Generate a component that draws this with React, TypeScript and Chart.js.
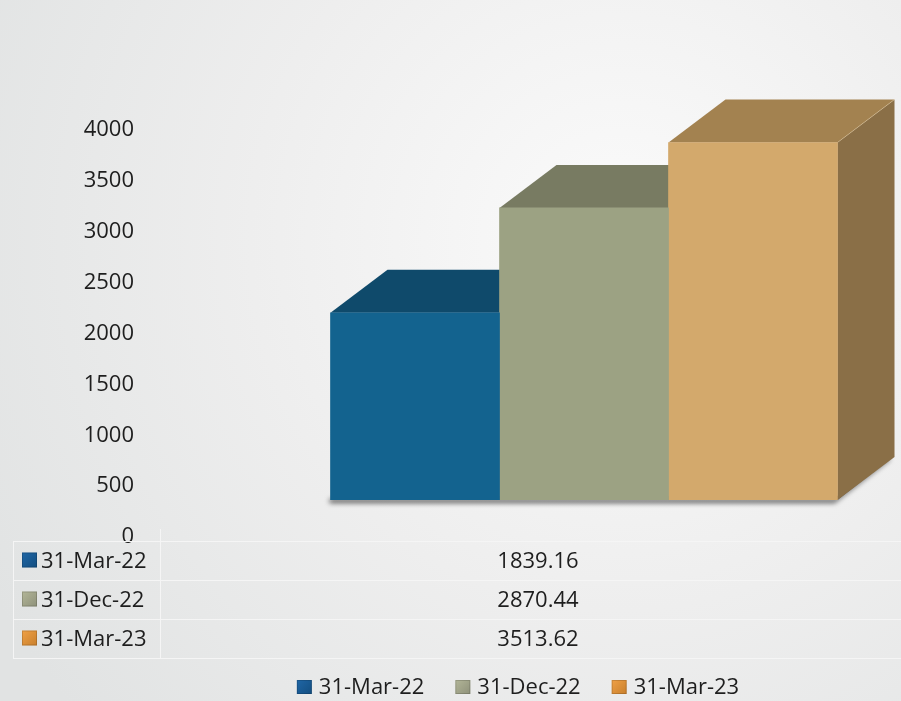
import { useEffect, useRef } from 'react';
import { Chart, registerables } from 'chart.js';

Chart.register(...registerables);

// ---- data ----
const categories = [''];
const seriesNames = ['31-Mar-22', '31-Dec-22', '31-Mar-23'];
const seriesValues = [1839.16, 2870.44, 3513.62];
const yMin = 0;
const yMax = 4000;
const yStep = 500;

// ---- styles ----
const frontColors = ['#13638f', '#9ca283', '#d3a96c'];
const topColors = ['#0f4a6b', '#787b62', '#a38250'];
const sideColors = ['#0b3a55', '#60624e', '#8a6f47'];
const keyColors = ['#1f66a6', '#b3b698', '#f0a146'];
const keyDark = ['#134e80', '#8e917a', '#c87f2c'];
const FONT = '"Open Sans", "DejaVu Sans", sans-serif';
const FONT_SIZE = 22;
const TEXT = '#1e1e1e';
const DX = 57;
const DY = -43;

const bgPlugin = {
  id: 'bgPlugin',
  beforeDraw(chart: any) {
    const { ctx, width, height } = chart;
    ctx.save();
    const g = ctx.createRadialGradient(620, 240, 20, 620, 240, 720);
    g.addColorStop(0, '#fafafa');
    g.addColorStop(0.5, '#eeeeee');
    g.addColorStop(1, '#e1e3e3');
    ctx.fillStyle = g;
    ctx.fillRect(0, 0, width, height);
    ctx.restore();
  },
};

function barGeom(chart: any, i: number) {
  const el = chart.getDatasetMeta(i).data[0];
  const p = el.getProps(['x', 'y', 'base', 'width'], true);
  return { l: p.x - p.width / 2, r: p.x + p.width / 2, t: p.y, b: p.base };
}

const box3dPlugin = {
  id: 'box3d',
  beforeDatasetsDraw(chart: any) {
    const { ctx } = chart;
    const n = chart.data.datasets.length;
    const first = barGeom(chart, 0);
    const last = barGeom(chart, n - 1);
    // shadow under the base
    ctx.save();
    ctx.shadowColor = 'rgba(0,0,0,0.65)';
    ctx.shadowBlur = 5;
    ctx.shadowOffsetX = -3;
    ctx.shadowOffsetY = 3;
    ctx.fillStyle = '#5a5a5a';
    ctx.beginPath();
    ctx.moveTo(first.l + 2, first.b - 4);
    ctx.lineTo(first.l + 2, first.b);
    ctx.lineTo(last.r, last.b);
    ctx.lineTo(last.r + DX - 2, last.b + DY);
    ctx.lineTo(last.r + DX - 2, last.b + DY - 4);
    ctx.lineTo(last.r, last.b - 4);
    ctx.closePath();
    ctx.fill();
    ctx.restore();

    for (let i = 0; i < n; i++) {
      const g = barGeom(chart, i);
      ctx.save();
      // top face
      ctx.fillStyle = topColors[i];
      ctx.beginPath();
      ctx.moveTo(g.l, g.t);
      ctx.lineTo(g.r, g.t);
      ctx.lineTo(g.r + DX, g.t + DY);
      ctx.lineTo(g.l + DX, g.t + DY);
      ctx.closePath();
      ctx.fill();
      // side face
      ctx.fillStyle = sideColors[i];
      ctx.beginPath();
      ctx.moveTo(g.r, g.t);
      ctx.lineTo(g.r + DX, g.t + DY);
      ctx.lineTo(g.r + DX, g.b + DY);
      ctx.lineTo(g.r, g.b);
      ctx.closePath();
      ctx.fill();
      // highlight edge
      ctx.strokeStyle = 'rgba(255,230,180,0.35)';
      ctx.lineWidth = 1;
      ctx.beginPath();
      ctx.moveTo(g.r, g.t);
      ctx.lineTo(g.r + DX, g.t + DY);
      ctx.stroke();
      ctx.restore();
    }
  },
};

function drawKey(ctx: any, x: number, y: number, w: number, h: number, i: number) {
  const gr = ctx.createLinearGradient(x, y, x + w, y + h);
  gr.addColorStop(0, keyColors[i]);
  gr.addColorStop(1, keyDark[i]);
  ctx.fillStyle = gr;
  ctx.fillRect(x, y, w, h);
  ctx.strokeStyle = 'rgba(0,0,0,0.15)';
  ctx.lineWidth = 1;
  ctx.strokeRect(x + 0.5, y + 0.5, w - 1, h - 1);
}

const tablePlugin = {
  id: 'tablePlugin',
  afterDraw(chart: any) {
    const { ctx, width } = chart;
    const left = 13;
    const colX = 160;
    const top = 541;
    const rowH = 39;
    const n = seriesNames.length;
    ctx.save();
    ctx.strokeStyle = '#f5f5f5';
    ctx.lineWidth = 1;
    ctx.beginPath();
    for (let r = 0; r <= n; r++) {
      const y = top + r * rowH + 0.5;
      ctx.moveTo(left, y);
      ctx.lineTo(width, y);
    }
    ctx.moveTo(left + 0.5, top);
    ctx.lineTo(left + 0.5, top + n * rowH);
    ctx.moveTo(colX + 0.5, top - 12);
    ctx.lineTo(colX + 0.5, top + n * rowH);
    ctx.stroke();

    ctx.font = `${FONT_SIZE}px ${FONT}`;
    ctx.fillStyle = TEXT;
    ctx.textBaseline = 'middle';
    const valCenter = 538;
    for (let r = 0; r < n; r++) {
      const cy = top + r * rowH + rowH / 2;
      drawKey(ctx, 22, cy - 8, 15, 15, r);
      ctx.fillStyle = TEXT;
      ctx.textAlign = 'left';
      ctx.fillText(seriesNames[r], 41, cy + 1);
      ctx.textAlign = 'center';
      ctx.fillText(seriesValues[r].toFixed(2), valCenter, cy + 1);
    }

    // legend
    const keyW = 15;
    const keyH = 14;
    const gap = 7;
    const itemGap = 31;
    const widths = seriesNames.map((s) => ctx.measureText(s).width);
    const total = widths.reduce((a: number, w: number) => a + keyW + gap + w, 0) + itemGap * (n - 1);
    let x = 518 - total / 2;
    const ly = 687;
    for (let i = 0; i < n; i++) {
      drawKey(ctx, x, ly - keyH / 2, keyW, keyH, i);
      ctx.fillStyle = TEXT;
      ctx.textAlign = 'left';
      ctx.fillText(seriesNames[i], x + keyW + gap, ly + 1);
      x += keyW + gap + widths[i] + itemGap;
    }
    ctx.restore();
  },
};

export default function App() {
  const ref = useRef<HTMLCanvasElement | null>(null);
  useEffect(() => {
    if (!ref.current) return;
    const chart = new Chart(ref.current, {
      type: 'bar',
      data: {
        labels: categories,
        datasets: seriesNames.map((name, i) => ({
          label: name,
          data: [seriesValues[i]],
          backgroundColor: frontColors[i],
          borderWidth: 0,
          barThickness: 169,
        })),
      },
      options: {
        animation: false,
        responsive: false,
        maintainAspectRatio: false,
        layout: { padding: { top: 93, bottom: 201, left: 0, right: 0 } },
        plugins: { legend: { display: false }, tooltip: { enabled: false } },
        scales: {
          x: { display: false },
          y: {
            min: yMin,
            max: yMax,
            ticks: {
              stepSize: yStep,
              labelOffset: 37,
              padding: 133,
              color: TEXT,
              font: { family: FONT, size: FONT_SIZE },
              callback: (v: any) => String(v),
            },
            grid: { display: false, drawTicks: false },
            border: { display: false },
            afterFit: (s: any) => {
              s.width = 267;
              s.paddingTop = 10;
              s.paddingBottom = 10;
            },
          },
        },
      },
      plugins: [bgPlugin, box3dPlugin, tablePlugin],
    } as any);
    return () => chart.destroy();
  }, []);
  return (
    <div style={{ position: 'fixed', left: 0, top: 0, width: 901, height: 701 }}>
      <canvas ref={ref} width={901} height={701} style={{ display: 'block', width: 901, height: 701 }} />
    </div>
  );
}
